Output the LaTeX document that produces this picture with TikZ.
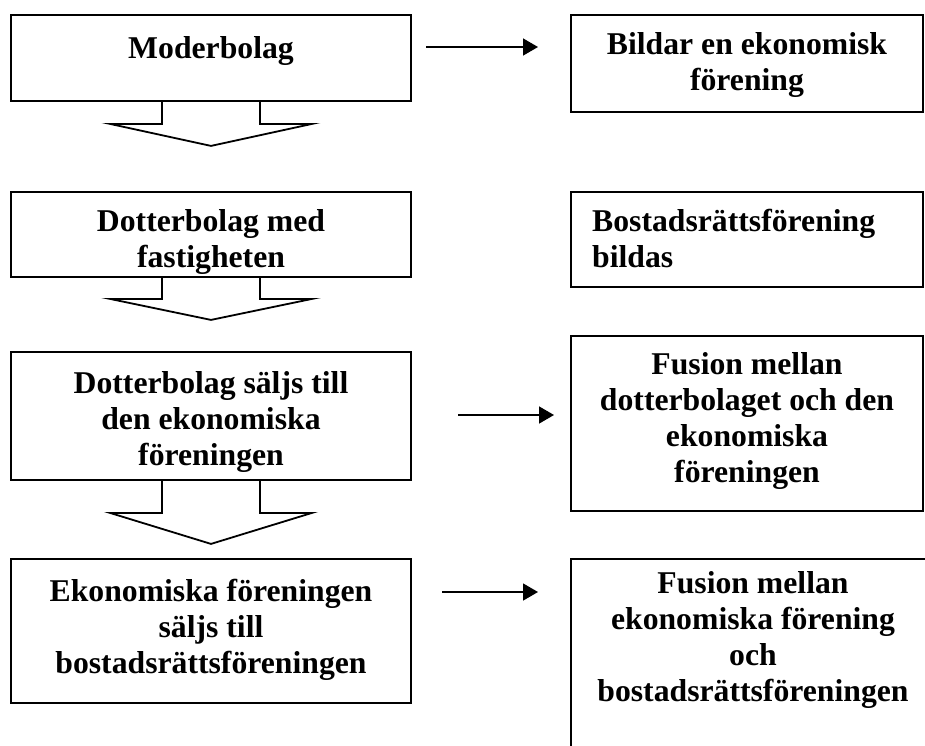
\documentclass[tikz,border=0pt]{standalone}
\usepackage{fontspec}
\setmainfont{Liberation Serif}
\usetikzlibrary{arrows.meta,calc}
\begin{document}
\begin{tikzpicture}[x=1pt,y=-1pt,
  box/.style={draw,line width=1.8pt,minimum width=#1,inner sep=0pt,anchor=center},
  lbl/.style={anchor=base,inner sep=0pt,align=center,font=\bfseries\fontsize{31.7}{35.7}\selectfont},
  blockarrow/.style={draw,line width=1.8pt,line join=miter},
  conn/.style={line width=1.5pt,-{Triangle[length=15pt,width=17pt]}}]
\useasboundingbox (0,0) rectangle (925,745);
% left boxes
\node[box=400pt,minimum height=86pt] (b1) at (211,58) {};
\node[box=400pt,minimum height=85pt] (b2) at (211,234.5) {};
\node[box=400pt,minimum height=128pt] (b3) at (211,416) {};
\node[box=400pt,minimum height=144pt] (b4) at (211,631) {};
% right boxes
\node[box=352pt,minimum height=97pt] (r1) at (747,63.5) {};
\node[box=352pt,minimum height=95pt] (r2) at (747,239.5) {};
\node[box=352pt,minimum height=175pt] (r3) at (747,423.5) {};
\node[box=364pt,minimum height=200pt] (r4) at (753,659) {};
% texts (anchor = baseline of the last line)
\node[lbl] (t1) at (211,58) {Moderbolag};
\node[lbl] (t2) at (211,267) {Dotterbolag med\\fastigheten};
\node[lbl] (t3) at (211,465) {Dotterbolag säljs till\\den ekonomiska\\föreningen};
\node[lbl] (t4) at (211,673) {Ekonomiska föreningen\\säljs till\\bostadsrättsföreningen};
\node[lbl] (t5) at (747,90) {Bildar en ekonomisk\\förening};
\node[lbl,align=left,anchor=base west] (t6) at (592,267) {Bostadsrättsförening\\bildas};
\node[lbl] (t7) at (747,482) {Fusion mellan\\dotterbolaget och den\\ekonomiska\\föreningen};
\node[lbl] (t8) at (753,701) {Fusion mellan\\ekonomiska förening\\och\\bostadsrättsföreningen};
% block arrows
\draw[blockarrow] ($(b1.south)+(-49,0)$) -- ++(0,22) -- ++(-52,0) -- ++(101,22) -- ++(101,-22) -- ++(-52,0) -- ++(0,-22);
\draw[blockarrow] ($(b2.south)+(-49,0)$) -- ++(0,21) -- ++(-52,0) -- ++(101,21) -- ++(101,-21) -- ++(-52,0) -- ++(0,-21);
\draw[blockarrow] ($(b3.south)+(-49,0)$) -- ++(0,32) -- ++(-52,0) -- ++(101,31) -- ++(101,-31) -- ++(-52,0) -- ++(0,-32);
% connectors
\coordinate (a1s) at (426,47); \coordinate (a1e) at (538,47);
\coordinate (a2s) at (458,415); \coordinate (a2e) at (554,415);
\coordinate (a3s) at (442,592); \coordinate (a3e) at (538,592);
\draw[conn] (a1s) -- (a1e);
\draw[conn] (a2s) -- (a2e);
\draw[conn] (a3s) -- (a3e);
\end{tikzpicture}
\end{document}
